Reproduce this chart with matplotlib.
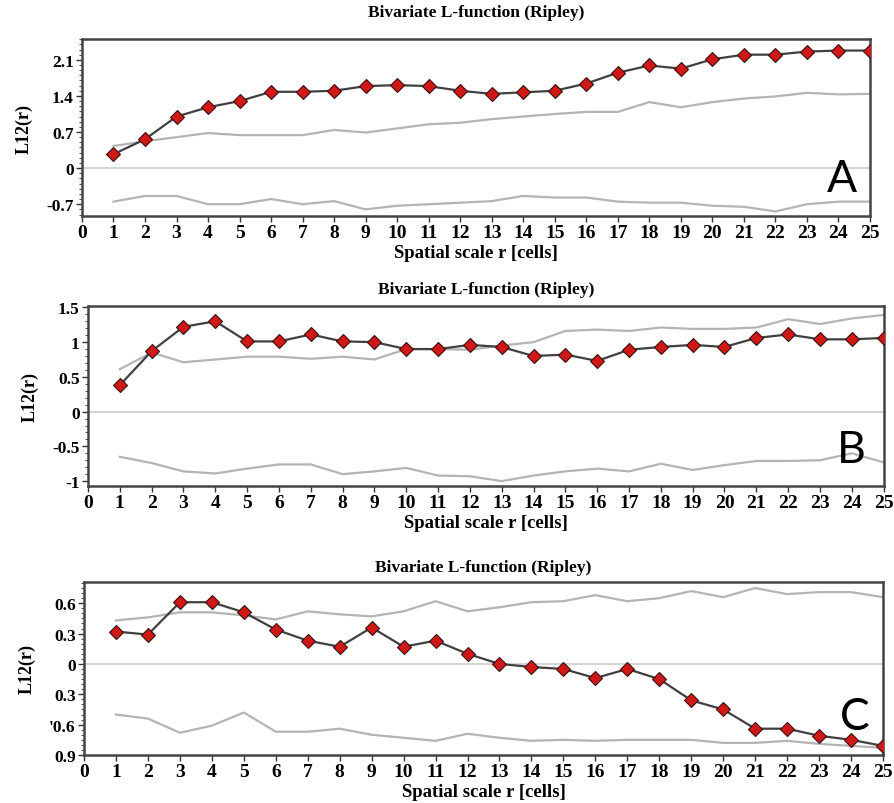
import matplotlib
matplotlib.use("Agg")
import matplotlib.pyplot as plt
from matplotlib.ticker import FixedLocator, MultipleLocator

r = list(range(1, 26))

# panel A
a_obs = [0.27, 0.56, 1.00, 1.18, 1.30, 1.48, 1.48, 1.50, 1.59, 1.61, 1.59, 1.50, 1.44,
         1.47, 1.50, 1.64, 1.85, 1.99, 1.93, 2.11, 2.20, 2.20, 2.26, 2.28, 2.28]
a_hi = [0.43, 0.52, 0.60, 0.68, 0.64, 0.64, 0.64, 0.74, 0.69, 0.77, 0.85, 0.88, 0.95,
        1.00, 1.05, 1.09, 1.09, 1.28, 1.18, 1.28, 1.35, 1.39, 1.46, 1.43, 1.44]
a_lo = [-0.65, -0.54, -0.54, -0.70, -0.70, -0.60, -0.70, -0.64, -0.80, -0.73, -0.70, -0.67, -0.64,
        -0.54, -0.57, -0.57, -0.65, -0.67, -0.67, -0.73, -0.75, -0.84, -0.70, -0.65, -0.65]

# panel B
b_obs = [0.38, 0.87, 1.22, 1.30, 1.01, 1.01, 1.11, 1.01, 1.00, 0.90, 0.90, 0.96, 0.93,
         0.80, 0.82, 0.73, 0.89, 0.93, 0.96, 0.93, 1.06, 1.11, 1.04, 1.04, 1.06]
b_hi = [0.61, 0.85, 0.71, 0.75, 0.79, 0.79, 0.76, 0.79, 0.75, 0.90, 0.90, 0.89, 0.95,
        1.00, 1.16, 1.18, 1.16, 1.21, 1.19, 1.19, 1.21, 1.33, 1.26, 1.34, 1.39]
b_lo = [-0.65, -0.74, -0.86, -0.89, -0.82, -0.76, -0.76, -0.90, -0.86, -0.81, -0.92, -0.93, -1.00,
        -0.92, -0.86, -0.82, -0.86, -0.75, -0.84, -0.77, -0.71, -0.71, -0.70, -0.60, -0.73]

# panel C
c_obs = [0.32, 0.29, 0.61, 0.61, 0.51, 0.34, 0.23, 0.17, 0.36, 0.17, 0.23, 0.10, 0.00,
         -0.03, -0.05, -0.14, -0.05, -0.15, -0.36, -0.45, -0.64, -0.64, -0.71, -0.75, -0.81]
c_hi = [0.43, 0.46, 0.51, 0.51, 0.48, 0.44, 0.52, 0.49, 0.47, 0.52, 0.62, 0.52, 0.56,
        0.61, 0.62, 0.68, 0.62, 0.65, 0.72, 0.66, 0.75, 0.69, 0.71, 0.71, 0.66]
c_lo = [-0.50, -0.54, -0.68, -0.61, -0.48, -0.67, -0.67, -0.64, -0.70, -0.73, -0.76, -0.69, -0.73,
        -0.76, -0.75, -0.76, -0.75, -0.75, -0.75, -0.78, -0.78, -0.76, -0.79, -0.81, -0.83]

panels = [
    # rect, ylim, yticks, labels, minor step, title pad, letter, letter xy, data
    ([0.0917, 0.730, 0.8814, 0.220], (-0.93, 2.50), [-0.7, 0, 0.7, 1.4, 2.1],
     ["-0.7", "0", "0.7", "1.4", "2.1"], 0.1, 17, "A", (0.984, 0.215), a_obs, a_hi, a_lo),
    ([0.0984, 0.3943, 0.8900, 0.2239], (-1.07, 1.52), [-1, -0.5, 0, 0.5, 1, 1.5],
     ["-1", "-0.5", "0", "0.5", "1", "1.5"], 0.1, 9, "B", (0.977, 0.20), b_obs, b_hi, b_lo),
    ([0.094, 0.0597, 0.8937, 0.2152], (-0.90, 0.81), [-0.9, -0.6, -0.3, 0, 0.3, 0.6],
     ["0.9", "'0.6", "0.3", "0", "0.3", "0.6"], 0.05, 8, "C", (0.983, 0.22), c_obs, c_hi, c_lo),
]

serif = "Liberation Serif"
fig = plt.figure(figsize=(8.94, 8.04), dpi=100)

for rect, ylim, yt, ytl, mstep, tpad, letter, lxy, obs, hi, lo in panels:
    ax = fig.add_axes(rect)
    ax.axhline(0, color="#d0d0d0", lw=1.3, zorder=1)
    ax.plot(r, hi, color="#b4b4b4", lw=1.6, zorder=2)
    ax.plot(r, lo, color="#b4b4b4", lw=1.6, zorder=2)
    ax.plot(r, obs, color="#404040", lw=1.6, zorder=3,
            marker="D", ms=6.8, mfc="#d01818", mec="#3a1010", mew=0.8)
    ax.set_xlim(0, 25)
    ax.set_ylim(*ylim)
    ax.xaxis.set_major_locator(FixedLocator(range(0, 26)))
    ax.set_xticklabels([str(i) for i in range(0, 26)])
    ax.yaxis.set_major_locator(FixedLocator(yt))
    ax.set_yticklabels(ytl)
    ax.yaxis.set_minor_locator(MultipleLocator(mstep))
    ax.tick_params(axis="both", which="major", direction="out", length=4, width=1,
                   color="#333333", pad=2)
    ax.tick_params(axis="x", labelsize=14)
    ax.tick_params(axis="y", labelsize=12.5)
    ax.tick_params(axis="y", which="minor", direction="out", length=2, width=0.8,
                   color="#555555")
    for lab in ax.get_xticklabels() + ax.get_yticklabels():
        lab.set_fontfamily(serif)
        lab.set_fontweight("bold")
    for sp in ax.spines.values():
        sp.set_color("#444444")
        sp.set_linewidth(1.8)
    ax.set_title("Bivariate L-function (Ripley)", fontfamily=serif, fontweight="bold",
                 fontsize=12.5, pad=tpad)
    ax.set_xlabel("Spatial scale r [cells]", fontfamily=serif, fontweight="bold",
                  fontsize=13.5, labelpad=2)
    ax.set_ylabel("L12(r)", fontfamily=serif, fontweight="bold", fontsize=13,
                  labelpad=10)
    ax.text(lxy[0], lxy[1], letter, transform=ax.transAxes, ha="right", va="center",
            fontsize=32, fontfamily="Lato", fontweight="normal", color="black", zorder=5)

fig.savefig("out.png", dpi=100)
